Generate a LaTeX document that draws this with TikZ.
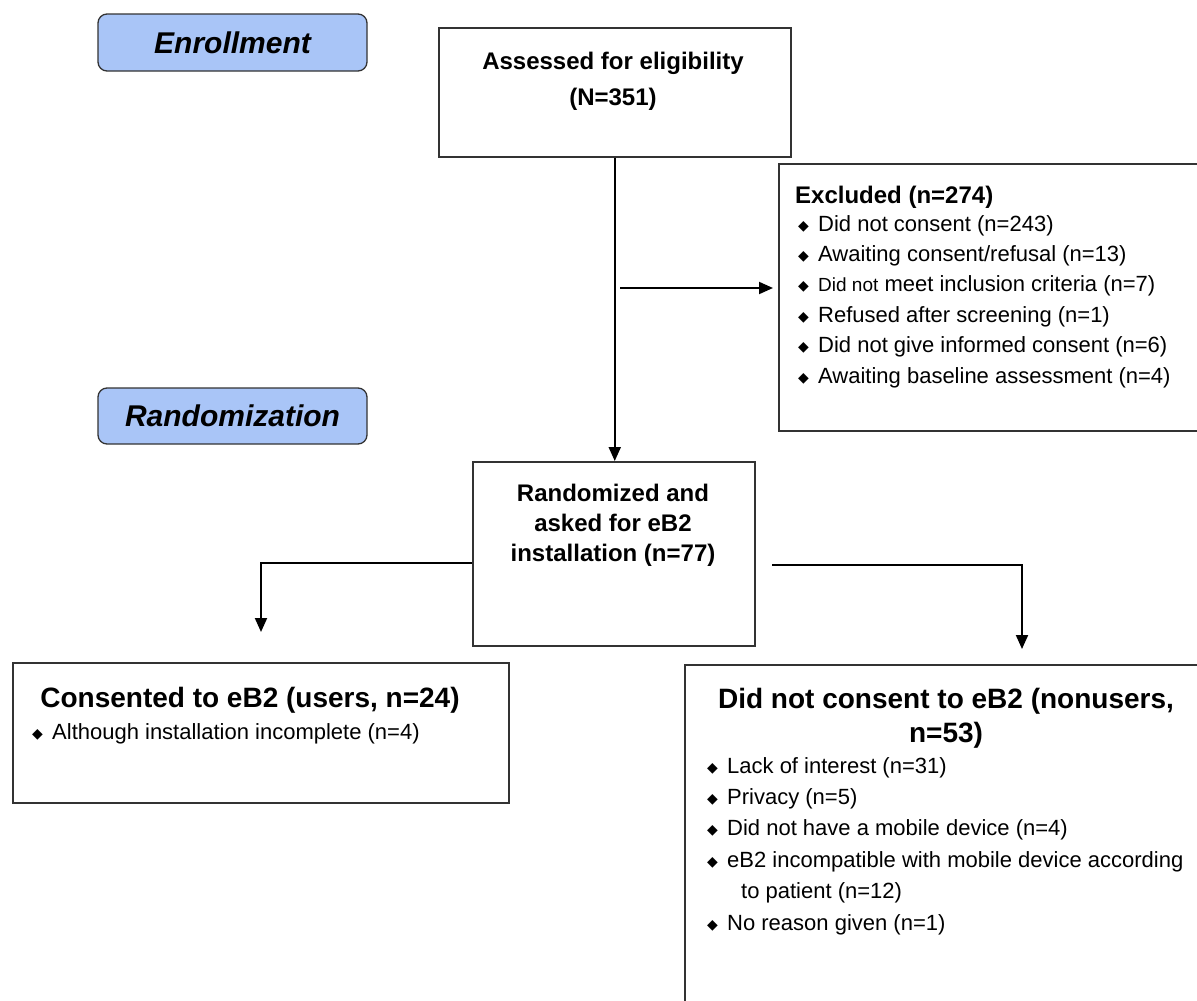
\documentclass[tikz,border=0pt]{standalone}
\usepackage{fontspec}
\setmainfont{Liberation Sans}
\newfontfamily\dvsans{DejaVu Sans}
\usetikzlibrary{arrows.meta}
\definecolor{phasefill}{HTML}{A9C5F7}
\definecolor{edgegray}{HTML}{333333}
\newcommand{\bul}{\makebox[20pt][l]{\dvsans\fontsize{14}{14}\selectfont\raisebox{1pt}{◆}}}
\begin{document}
\begin{tikzpicture}[x=1pt,y=-1pt,
  box/.style={draw=edgegray, line width=1.5pt, rectangle, inner sep=0pt, anchor=north west},
  phase/.style={draw=edgegray, fill=phasefill, rounded corners=9pt, line width=1.3pt,
    font=\fontsize{30}{30}\selectfont\bfseries\itshape, inner sep=0pt},
  ttl/.style={font=\fontsize{24}{36}\selectfont\bfseries, align=center, inner sep=0pt},
  bigttl/.style={font=\fontsize{28}{34}\selectfont\bfseries, align=center, inner sep=0pt},
  lst/.style={font=\fontsize{22}{30.4}\selectfont, align=left, inner sep=0pt, anchor=base west},
  arr/.style={draw=black, line width=2pt, -{Triangle[length=14pt,width=12pt]}}]
\useasboundingbox (0,0) rectangle (1197,1001);
\clip (0,0) rectangle (1197,1001);

% phase labels
\node[phase, minimum width=269pt, minimum height=57pt] (enr) at (232.5,42.5) {Enrollment};
\node[phase, minimum width=269pt, minimum height=56pt] (rnd) at (232.5,416) {Randomization};

% assessed
\node[box, minimum width=352pt, minimum height=129pt] (assess) at (438,27) {};
\node[ttl, anchor=base] (assessT) at (613,105) {Assessed for eligibility\\(N=351)};

% excluded
\node[box, minimum width=440pt, minimum height=267pt] (excl) at (778,163) {};
\node[font=\fontsize{24}{24}\selectfont\bfseries, inner sep=0pt, anchor=base west] (exclT) at (795,203) {Excluded (n=274)};
\node[lst] (exclL) at (798,383) {\bul Did not consent (n=243)\\
\bul Awaiting consent/refusal (n=13)\\
\bul {\fontsize{19}{19}\selectfont Did not} meet inclusion criteria (n=7)\\
\bul Refused after screening (n=1)\\
\bul Did not give informed consent (n=6)\\
\bul Awaiting baseline assessment (n=4)};

% randomized
\node[box, minimum width=282pt, minimum height=184pt] (rz) at (472,461) {};
\node[ttl, anchor=base, font=\fontsize{24}{30}\selectfont\bfseries] (rzT) at (613,561) {Randomized and\\asked for eB2\\installation (n=77)};

% consented
\node[box, minimum width=496pt, minimum height=140pt] (cons) at (12,662) {};
\node[bigttl, anchor=base] (consT) at (250,707) {Consented to eB2 (users, n=24)};
\node[lst] (consL) at (32,739) {\bul Although installation incomplete (n=4)};

% did not consent
\node[box, minimum width=540pt, minimum height=360pt] (nons) at (684,664) {};
\node[bigttl, anchor=base] (nonsT) at (946,742) {Did not consent to eB2 (nonusers,\\n=53)};
\node[lst, font=\fontsize{22}{31.4}\selectfont] (nonsL) at (707,930) {\bul Lack of interest (n=31)\\
\bul Privacy (n=5)\\
\bul Did not have a mobile device (n=4)\\
\bul eB2 incompatible with mobile device according\\
\hspace*{34pt}to patient (n=12)\\
\bul No reason given (n=1)};

% connectors
\draw[arr] (assess.south) -- (assess.south |- rz.north);
\coordinate (hs) at (620,288);
\draw[arr, shorten >=5pt] (hs) -- (hs -| excl.west);
\coordinate (lc) at (261,632);
\draw[arr] ([yshift=-9pt]rz.west) -| (lc);
\coordinate (rs) at (772,565);
\coordinate (re) at (1022,649);
\draw[arr] (rs) -| (re);
\end{tikzpicture}
\end{document}
